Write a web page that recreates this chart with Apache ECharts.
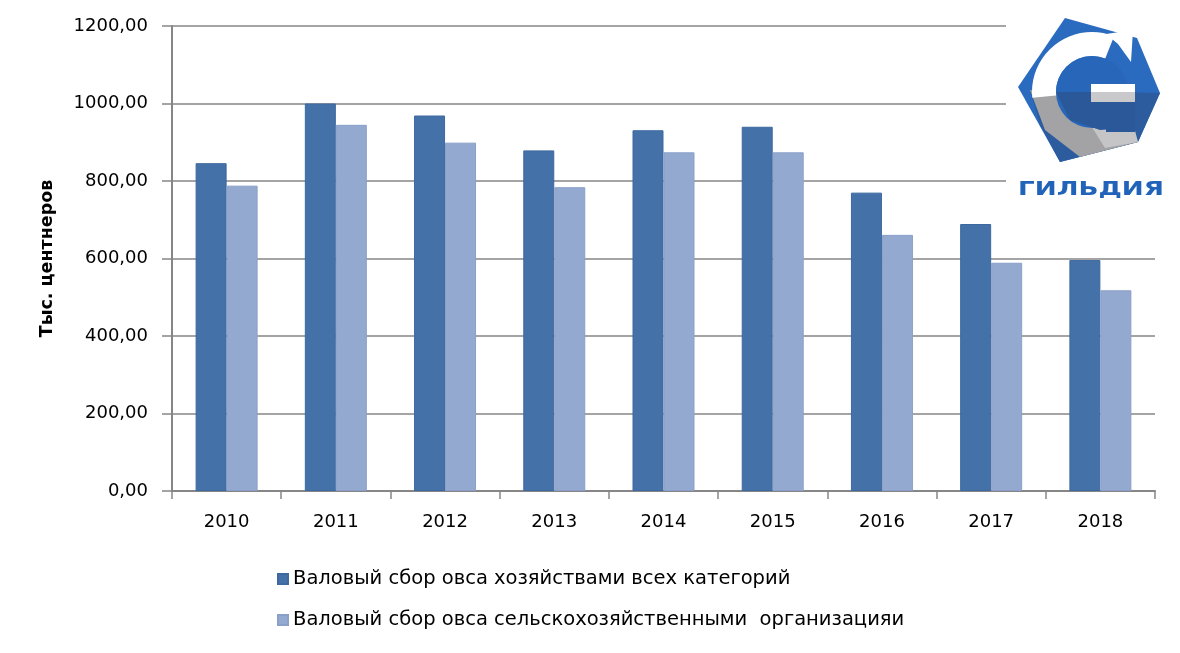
<!DOCTYPE html>
<html>
<head>
<meta charset="utf-8">
<script src="https://cdn.jsdelivr.net/npm/echarts@6/dist/echarts.min.js"></script>
<style>
html, body { margin: 0; padding: 0; background: #fff; }
#main { width: 1180px; height: 653px; }
</style>
</head>
<body>
<div id="main"></div>
<script>
var years = ['2010', '2011', '2012', '2013', '2014', '2015', '2016', '2017', '2018'];
var allFarms = [846, 1000, 969, 879, 931, 940, 770, 689, 596];
var agriOrgs = [788, 945, 899, 784, 874, 874, 661, 589, 518];
var seriesNames = [
    'Валовый сбор овса хозяйствами всех категорий',
    'Валовый сбор овса сельскохозяйственными  организацияи'
];
var yTicks = [0, 1200, 200];  // min, max, step

var internal = {
    init: function() {
        var chart = echarts.init(document.getElementById('main'));
        chart.setOption(internal.option());
    },
    logo: function() {
        var cx = 1092, cy = 92;
        // white backdrop of the logo picture hides the grid lines behind it
        return {
            type: 'group',
            z: 50,
            children: [
                { type: 'rect', z: 50, shape: { x: 1006, y: 0, width: 174, height: 212 }, style: { fill: '#fff' } },
                { type: 'polygon', z: 51, shape: { points: [[1018, 87], [1065, 18], [1137, 38], [1160, 93], [1138, 142], [1060, 162]] },
                  style: { fill: '#2a6bc0' } },
                { type: 'polygon', z: 52, shape: { points: [[1030, 90], [1160, 93], [1138, 142], [1060, 162], [1040, 125]] },
                  style: { fill: '#2c5c9e' } },
                { type: 'polygon', z: 53, shape: { points: [[1030, 90], [1110, 92], [1138, 142], [1080, 157], [1045, 130]] },
                  style: { fill: '#a3a3a5' } },
                { type: 'polygon', z: 54, shape: { points: [[1070, 92], [1125, 93], [1138, 142], [1105, 148]] },
                  style: { fill: '#c5c5c7' } },
                { type: 'sector', z: 55, shape: { cx: cx, cy: cy, r: 60, r0: 36, startAngle: Math.PI * 0.97, endAngle: Math.PI * 1.62, clockwise: true },
                  style: { fill: '#ffffff' } },
                { type: 'polygon', z: 55, shape: { points: [[1106, 34], [1133, 30], [1131, 62], [1118, 44]] }, style: { fill: '#ffffff' } },
                { type: 'circle', z: 56, shape: { cx: cx, cy: cy, r: 36 }, style: { fill: '#2866b9' } },
                { type: 'polygon', z: 57, shape: { points: [[1056, 92], [1128, 92], [1128, 128], [1100, 130], [1070, 120]] },
                  style: { fill: '#2b5898' } },
                { type: 'rect', z: 58, shape: { x: 1091, y: 84, width: 44, height: 18 }, style: { fill: '#c9c9cb' } },
                { type: 'rect', z: 58, shape: { x: 1091, y: 84, width: 44, height: 8 }, style: { fill: '#ffffff' } },
                { type: 'rect', z: 59, shape: { x: 1106, y: 102, width: 29, height: 30 }, style: { fill: '#2b5898' } },
                { type: 'text', z: 60, x: 1091, y: 190, scaleX: 1.38,
                  style: { text: 'ГИЛЬДИЯ', fill: '#2063b8',
                  font: 'bold 19px "DejaVu Sans"', textAlign: 'center', textVerticalAlign: 'middle' } }
            ]
        };
    },
    option: function() {
        var font = '"DejaVu Sans", sans-serif';
        return {
            backgroundColor: '#fff',
            animation: false,
            grid: { left: 172, right: 25, top: 26, bottom: 162 },
            legend: {
                orient: 'vertical',
                left: 272,
                top: 564,
                itemWidth: 10,
                itemHeight: 10,
                itemGap: 21,
                icon: 'rect',
                textStyle: { fontFamily: font, fontSize: 19.5, color: '#000' },
                data: seriesNames
            },
            xAxis: {
                type: 'category',
                data: years,
                axisLine: { lineStyle: { color: '#868686', width: 2 } },
                axisTick: { show: true, length: 8, lineStyle: { color: '#868686', width: 1.5 } },
                axisLabel: { color: '#000', fontFamily: font, fontSize: 18, margin: 22 }
            },
            yAxis: {
                type: 'value',
                min: yTicks[0],
                max: yTicks[1],
                interval: yTicks[2],
                name: 'Тыс. центнеров',
                nameLocation: 'middle',
                nameGap: 116,
                nameRotate: 90,
                nameTextStyle: { color: '#000', fontFamily: font, fontSize: 17.5, fontWeight: 'bold' },
                axisLine: { show: true, lineStyle: { color: '#868686', width: 2 } },
                axisTick: { show: true, length: 10, lineStyle: { color: '#868686', width: 1.5 } },
                splitLine: { lineStyle: { color: '#868686', width: 1.5 } },
                axisLabel: {
                    color: '#000', fontFamily: font, fontSize: 18, margin: 24,
                    formatter: function(v) { return v.toFixed(2).replace('.', ','); }
                }
            },
            series: [{
                name: seriesNames[0],
                type: 'bar',
                data: allFarms,
                barWidth: 31,
                barGap: '0%',
                itemStyle: { color: '#4472a8', borderColor: '#3d68a0', borderWidth: 1 }
            }, {
                name: seriesNames[1],
                type: 'bar',
                data: agriOrgs,
                barWidth: 31,
                barGap: '0%',
                itemStyle: { color: '#94a9d0', borderColor: '#8aa0c8', borderWidth: 1 }
            }],
            graphic: [internal.logo()]
        };
    }
};

internal.init();
</script>
</body>
</html>
